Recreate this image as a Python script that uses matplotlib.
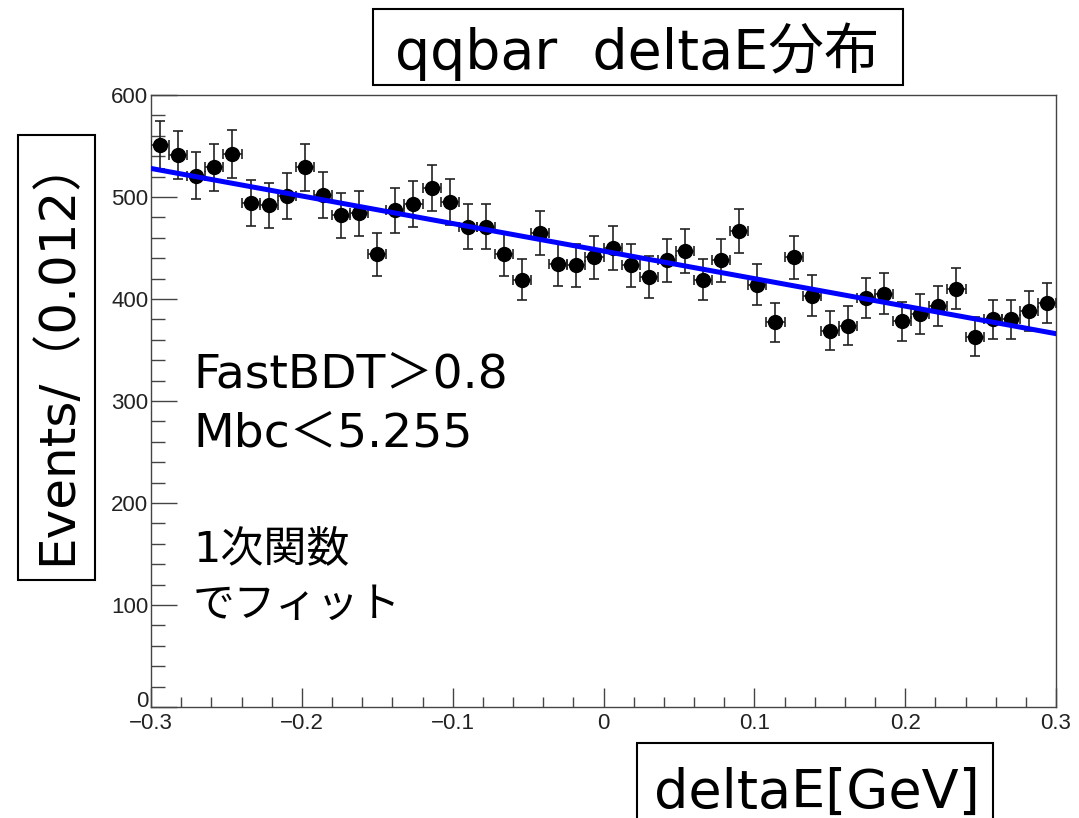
import numpy as np
import matplotlib
matplotlib.use("Agg")
import matplotlib.pyplot as plt
from matplotlib.patches import Rectangle
from matplotlib.ticker import MultipleLocator, FixedLocator
from matplotlib.transforms import ScaledTranslation

# ---- data ----
x_min, x_max, n_bins = -0.3, 0.3, 50
counts = [551, 541, 521, 529, 542, 494, 492, 501, 529, 502,
          482, 484, 444, 487, 493, 509, 495, 471, 471, 444,
          419, 465, 434, 433, 441, 450, 433, 422, 438, 447,
          419, 438, 467, 414, 377, 441, 403, 369, 374, 401,
          405, 378, 385, 393, 410, 363, 380, 380, 388, 396]
fit_p0, fit_p1 = 447.0, -270.0   # linear fit: p0 + p1*x
x_ticks = [-0.3, -0.2, -0.1, 0.0, 0.1, 0.2, 0.3]
x_tick_labels = ["\u22120.3", "\u22120.2", "\u22120.1", "0", "0.1", "0.2", "0.3"]
y_ticks = [0, 100, 200, 300, 400, 500, 600]
y_tick_labels = ["0", "100", "200", "300", "400", "500", "600"]
title_text = "qqbar  deltaE分布"
xlabel_text = "deltaE[GeV]"
ylabel_text = "Events/（0.012）"
note_lines = ["FastBDT＞0.8", "Mbc＜5.255"]
note2_lines = ["1次関数", "でフィット"]

W, H = 1079, 818
plt.rcParams['font.family'] = ['DejaVu Sans', 'Noto Sans CJK JP']
fig = plt.figure(figsize=(W / 100, H / 100), dpi=100)

def fx(px):
    return px / W

def fy(py):
    return 1 - py / H

ax_l, ax_r, ax_t, ax_b = 151, 1056, 95, 707
ax = fig.add_axes([fx(ax_l), fy(ax_b), fx(ax_r - ax_l), (ax_b - ax_t) / H])

edges = np.linspace(x_min, x_max, n_bins + 1)
centers = 0.5 * (edges[:-1] + edges[1:])
half_w = 0.5 * (edges[1] - edges[0])
counts_arr = np.array(counts, dtype=float)
errs = np.sqrt(counts_arr)

ax.errorbar(centers, counts_arr, yerr=errs, xerr=half_w, fmt='o', color='black',
            ecolor='#222222', elinewidth=1.2, capsize=3.4, capthick=1.2,
            markersize=10, zorder=3)
xf = np.array([x_min, x_max])
ax.plot(xf, fit_p0 + fit_p1 * xf, color='#0000ff', lw=3.6, zorder=4)

ax.set_xlim(x_min, x_max)
ax.set_ylim(0, 600)
ax.xaxis.set_major_locator(FixedLocator(x_ticks))
ax.set_xticklabels(x_tick_labels, fontfamily='Liberation Sans', fontsize=16, color='#222222')
ax.xaxis.set_minor_locator(MultipleLocator(0.02))
ax.yaxis.set_major_locator(FixedLocator(y_ticks))
ax.set_yticklabels(y_tick_labels, fontfamily='Liberation Sans', fontsize=16, color='#222222')
ax.yaxis.set_minor_locator(MultipleLocator(20))
ax.tick_params(axis='both', which='both', direction='in', color='#444444', width=1.0,
               top=False, right=False)
ax.tick_params(axis='y', which='major', length=19, pad=2)
ax.tick_params(axis='y', which='minor', length=10)
ax.tick_params(axis='x', which='major', length=14, pad=4)
ax.tick_params(axis='x', which='minor', length=7)
for s in ax.spines.values():
    s.set_color('#444444')
    s.set_linewidth(1.0)
# lift the "0" label of the y axis a little, as in the reference
zero_lbl = ax.get_yticklabels()[0]
zero_lbl.set_transform(zero_lbl.get_transform() + ScaledTranslation(0, 6 / 72, fig.dpi_scale_trans))

def box(x0, y0, x1, y1):
    fig.add_artist(Rectangle((fx(x0), fy(y1)), fx(x1 - x0), (y1 - y0) / H,
                             transform=fig.transFigure, fill=False,
                             edgecolor='black', lw=1.5))

box(373, 9, 903, 85)
fig.text(fx(637), fy(69), title_text, fontsize=40, ha='center', va='baseline')
box(637, 743, 993, 830)
fig.text(fx(817), fy(808), xlabel_text, fontsize=39, ha='center', va='baseline')
box(18, 135, 95, 580)
fig.text(fx(57), fy(350), ylabel_text, fontsize=36, ha='center', va='center',
         rotation=90, rotation_mode='anchor')

fig.text(fx(193), fy(387), note_lines[0], fontsize=34, ha='left', va='baseline')
fig.text(fx(193), fy(446), note_lines[1], fontsize=34, ha='left', va='baseline')
fig.text(fx(193), fy(561), note2_lines[0], fontsize=31, ha='left', va='baseline')
fig.text(fx(193), fy(617), note2_lines[1], fontsize=30, ha='left', va='baseline')

fig.savefig("out.png", dpi=100)
